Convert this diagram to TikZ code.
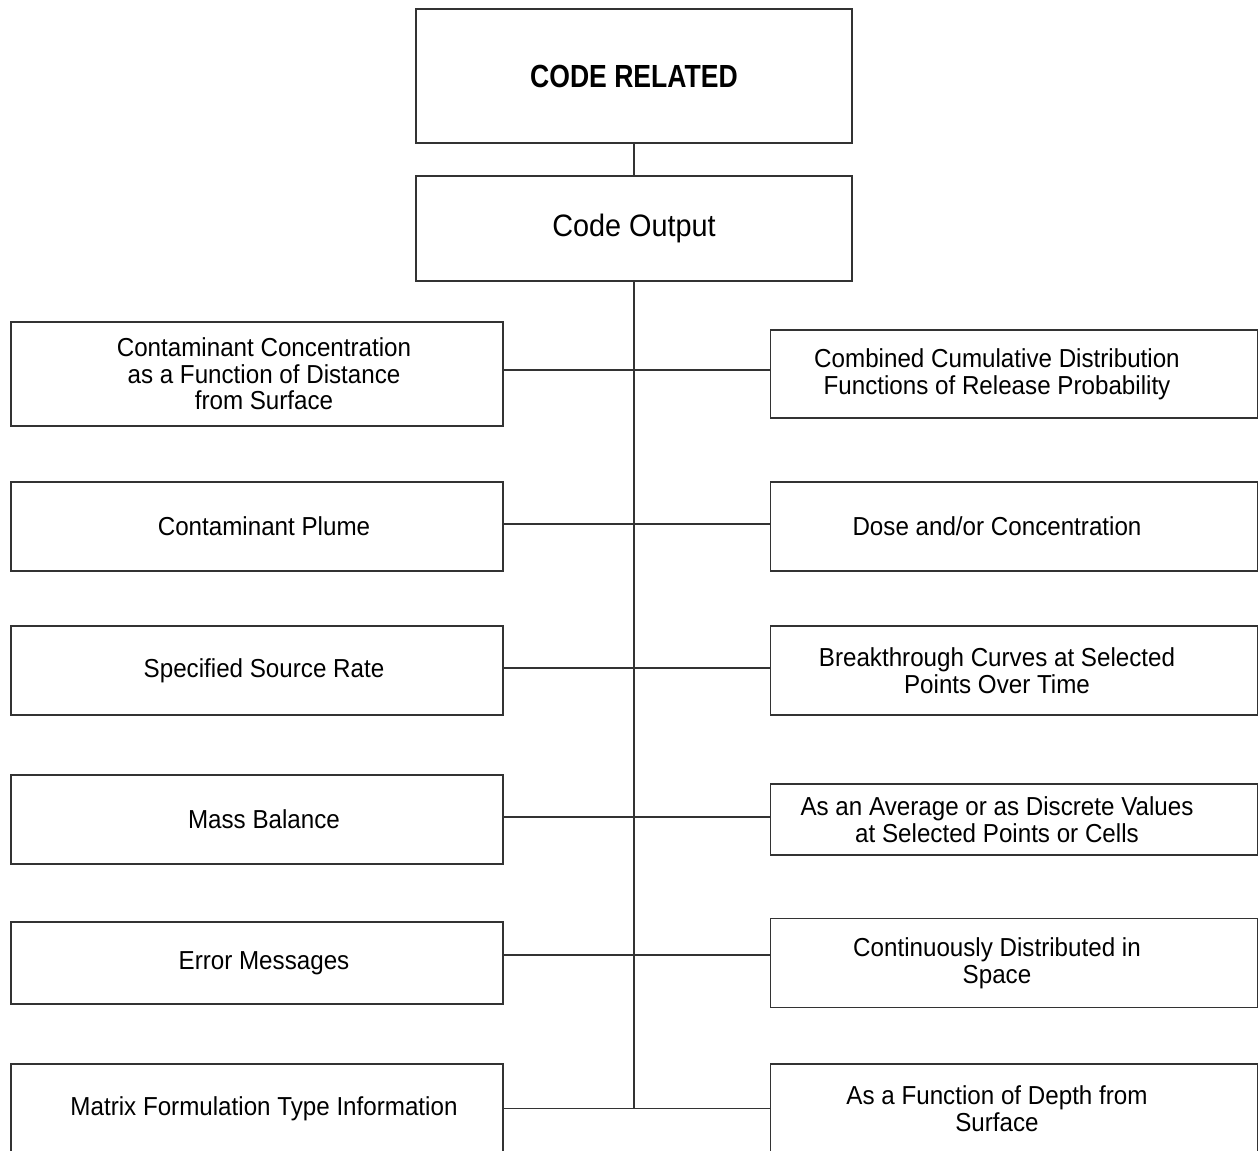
\documentclass[tikz,border=0pt]{standalone}
\usepackage{fontspec}
\setmainfont{Liberation Sans}[FakeStretch=0.93]
\newfontfamily\titlefont{Liberation Sans}[FakeStretch=0.83]
\usepackage{tikz}
\usetikzlibrary{positioning, calc}

\begin{document}
\begin{tikzpicture}[
		x=0.5pt, y=-0.5pt,
		framed/.style={draw=black!80, line width=0.65pt, inner sep=0pt},
		leftbox/.style={framed, minimum width=246pt, minimum height=44.5pt},
		rightbox/.style={framed, minimum width=243.75pt, minimum height=44.5pt},
		lefttext/.style={align=center, xshift=3.5pt, font=\fontsize{13}{13.3}\selectfont},
		righttext/.style={align=center, xshift=-8.5pt, font=\fontsize{13}{13.3}\selectfont}
	]
		\useasboundingbox (0,0) rectangle (1259,1151);

		\node[framed, minimum width=218pt, minimum height=67pt, font=\titlefont\bfseries\fontsize{16}{16.5}\selectfont] at(634,76) (related) {CODE RELATED};
		\node[framed, minimum width=218pt, minimum height=52.5pt, font=\fontsize{15.5}{16}\selectfont] at(634,228.5) (output) {Code Output};

		% left column
		\node[leftbox, minimum height=52pt, label={[lefttext]center:{Contaminant Concentration\\as a Function of Distance\\from Surface}}] at(257,374) (conc) {};
		\node[leftbox, label={[lefttext]center:{Contaminant Plume}}] at(257,526.5) (plume) {};
		\node[leftbox, label={[lefttext]center:{Specified Source Rate}}] at(257,670.5) (source) {};
		\node[leftbox, label={[lefttext]center:{Mass Balance}}] at(257,819.5) (mass) {};
		\node[leftbox, minimum height=41pt, label={[lefttext]center:{Error Messages}}] at(257,963) (error) {};
		\node[leftbox, label={[lefttext]center:{Matrix Formulation Type Information}}] at(257,1108.5) (matrix) {};

		% right column
		\node[rightbox, minimum height=44pt, label={[righttext]center:{Combined Cumulative Distribution\\Functions of Release Probability}}] at(1014,374) (ccdf) {};
		\node[rightbox, label={[righttext]center:{Dose and/or Concentration}}] at(1014,526.5) (dose) {};
		\node[rightbox, label={[righttext]center:{Breakthrough Curves at Selected\\Points Over Time}}] at(1014,670.5) (breakthrough) {};
		\node[rightbox, minimum height=35.5pt, label={[righttext]center:{As an Average or as Discrete Values\\at Selected Points or Cells}}] at(1014,819.5) (average) {};
		\node[rightbox, label={[righttext]center:{Continuously Distributed in\\Space}}] at(1014,963) (continuous) {};
		\node[rightbox, label={[righttext]center:{As a Function of Depth from\\Surface}}] at(1014,1108.5) (depth) {};

		\coordinate (trunk) at (output.south |- matrix.east);

		\begin{scope}[every path/.style={draw=black!80, line width=0.65pt}]
			\draw (related.south) -- (output.north);
			\draw (output.south) -- (trunk);

			\draw ([yshift=2pt]conc.east) -- ([yshift=2pt]ccdf.west);
			\draw ([yshift=1.25pt]plume.east) -- ([yshift=1.25pt]dose.west);
			\draw ([yshift=1.25pt]source.east) -- ([yshift=1.25pt]breakthrough.west);
			\draw ([yshift=1.25pt]mass.east) -- ([yshift=1.25pt]average.west);
			\draw ([yshift=4pt]error.east) -- ([yshift=4pt]continuous.west);
			\draw (matrix.east) -- (depth.west);
		\end{scope}

	\end{tikzpicture}
\end{document}
